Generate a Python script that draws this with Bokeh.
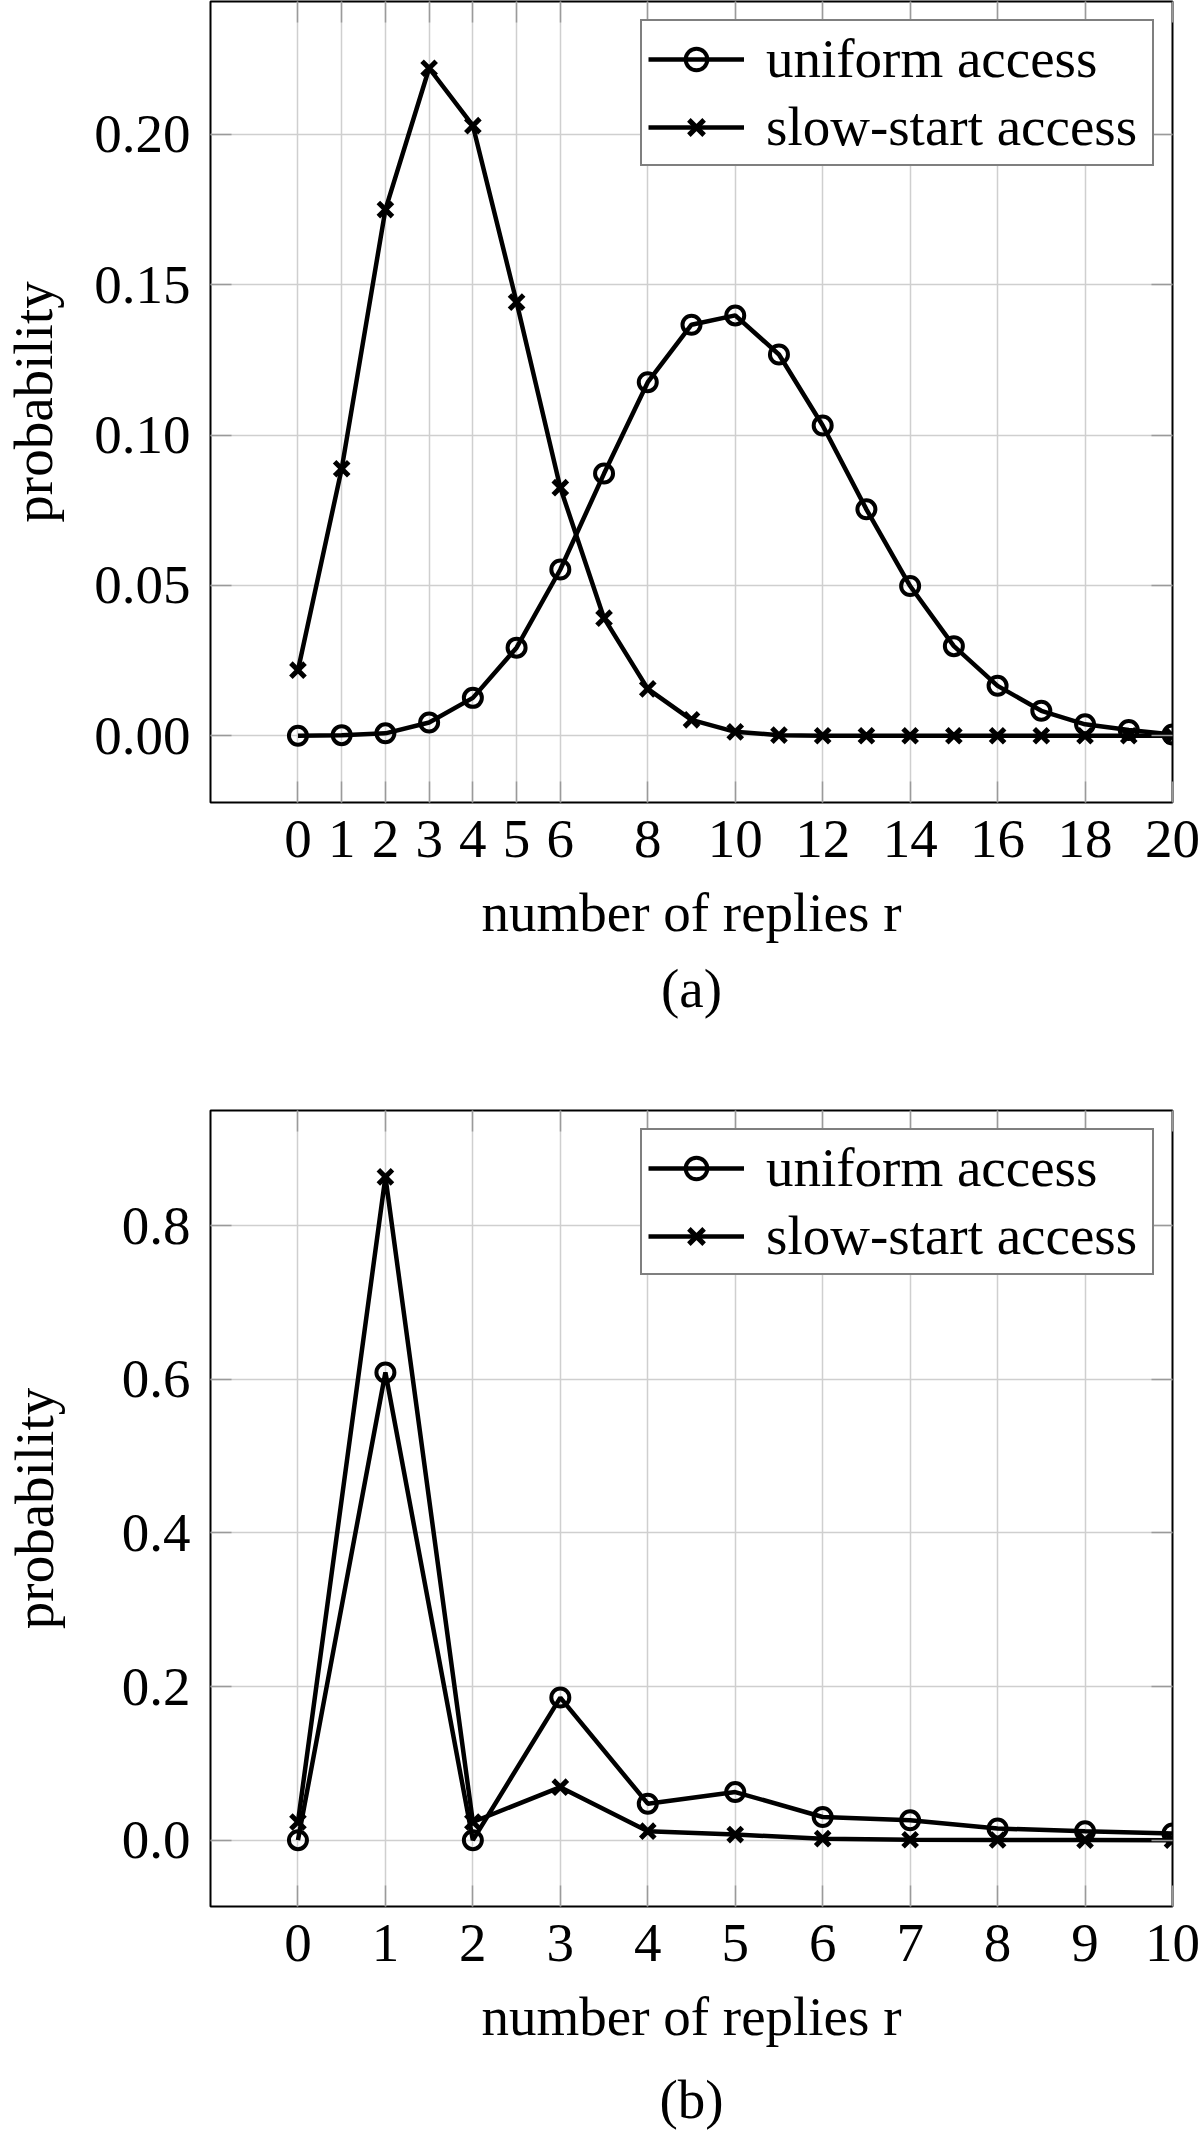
from bokeh.plotting import figure
from bokeh.models import (FixedTicker, NumeralTickFormatter, Legend, LegendItem,
                          LinearAxis, Range1d, Title, CustomJSTickFormatter)
from bokeh.layouts import column
from bokeh.embed import file_html
from bokeh.resources import INLINE

FONT = "Liberation Serif"

# ---------------- data: panel (a) ----------------
r_a = list(range(21))
uniform_a = [0.0000, 0.0002, 0.0008, 0.0044, 0.0126, 0.0293, 0.0553, 0.0872, 0.1176,
             0.1367, 0.1398, 0.1268, 0.1032, 0.0753, 0.0498, 0.0298, 0.0166, 0.0083,
             0.0038, 0.0019, 0.0004]
slow_a = [0.0218, 0.0888, 0.1750, 0.2220, 0.2029, 0.1442, 0.0825, 0.0391, 0.0156,
          0.0053, 0.0013, 0.0002, 0.0000, 0.0000, 0.0000, 0.0000, 0.0000, 0.0000,
          0.0000, 0.0000, 0.0000]
xticks_a = [0, 1, 2, 3, 4, 5, 6, 8, 10, 12, 14, 16, 18, 20]
yticks_a = [0.00, 0.05, 0.10, 0.15, 0.20]

# ---------------- data: panel (b) ----------------
r_b = list(range(11))
uniform_b = [0.0000, 0.6090, 0.0000, 0.1857, 0.0475, 0.0626, 0.0302, 0.0259, 0.0151,
             0.0117, 0.0086]
slow_b = [0.0237, 0.8638, 0.0237, 0.0690, 0.0117, 0.0073, 0.0020, 0.0005, 0.0002,
          0.0001, 0.0000]
xticks_b = list(range(11))
yticks_b = [0.0, 0.2, 0.4, 0.6, 0.8]

series_names = ["uniform access", "slow-start access"]
x_title = "number of replies r"
y_title = "probability"

GRID = "#cfcfcf"
TICK = "#9a9a9a"


def make_panel(xs, uni, slow, xticks, yticks, yfmt, caption, height,
               top, bottom, ylab_standoff, cap_standoff):
    xmax = max(xs)
    ymax = max(max(uni), max(slow))
    p = figure(width=1200, height=height, output_backend="svg", toolbar_location=None,
               x_range=Range1d(-0.1 * xmax, xmax),
               y_range=Range1d(-0.1 * ymax, 1.1 * ymax),
               min_border_left=209, min_border_right=28,
               min_border_top=top, min_border_bottom=bottom,
               x_axis_label=x_title, y_axis_label=y_title)
    p.background_fill_color = "white"
    p.border_fill_color = "white"
    p.outline_line_color = "black"
    p.outline_line_width = 2

    p.xaxis.ticker = FixedTicker(ticks=xticks)
    p.yaxis.ticker = FixedTicker(ticks=yticks)
    p.yaxis.formatter = NumeralTickFormatter(format=yfmt)
    p.xgrid.ticker = FixedTicker(ticks=xticks)
    p.ygrid.ticker = FixedTicker(ticks=yticks)
    for g in (p.xgrid, p.ygrid):
        g.grid_line_color = GRID
        g.grid_line_width = 1.5

    for ax in (p.xaxis[0], p.yaxis[0]):
        ax.major_tick_in = 21
        ax.major_tick_out = 0
        ax.major_tick_line_color = TICK
        ax.major_tick_line_width = 1.5
        ax.minor_tick_line_color = None
        ax.axis_line_color = None
        ax.major_label_text_font = FONT
        ax.major_label_text_font_size = "55px"
        ax.major_label_text_color = "black"
        ax.axis_label_text_font = FONT
        ax.axis_label_text_font_size = "55px"
        ax.axis_label_text_font_style = "normal"
        ax.axis_label_text_color = "black"
    p.xaxis.major_label_standoff = 18
    p.xaxis.axis_label_standoff = 22
    p.yaxis.major_label_standoff = 20
    p.yaxis.axis_label_standoff = ylab_standoff

    # mirrored ticks on top and right
    blank = CustomJSTickFormatter(code="return ''")
    for loc, tks in (("above", xticks), ("right", yticks)):
        ax = LinearAxis(ticker=FixedTicker(ticks=tks), formatter=blank,
                        major_tick_in=21, major_tick_out=0,
                        major_tick_line_color=TICK, major_tick_line_width=1.5,
                        minor_tick_line_color=None, axis_line_color=None,
                        major_label_standoff=0, major_label_text_font_size="0px")
        p.add_layout(ax, loc)

    l1 = p.line(xs, uni, line_color="black", line_width=4.5)
    s1 = p.scatter(xs, uni, marker="circle", size=18, fill_color=None,
                   line_color="black", line_width=4)
    l2 = p.line(xs, slow, line_color="black", line_width=4.5)
    s2 = p.scatter(xs, slow, marker="x", size=20, line_color="black", line_width=5)

    legend = Legend(items=[LegendItem(label=series_names[0], renderers=[l1, s1]),
                           LegendItem(label=series_names[1], renderers=[l2, s2])],
                    location="top_right")
    legend.label_text_font = FONT
    legend.label_text_font_size = "55px"
    legend.label_text_color = "black"
    legend.glyph_width = 96
    legend.glyph_height = 54
    legend.label_height = 54
    legend.label_width = 380
    legend.label_standoff = 22
    legend.spacing = 5
    legend.padding = 6
    legend.margin = 18
    legend.border_line_color = "black"
    legend.border_line_width = 2
    legend.background_fill_color = "white"
    legend.background_fill_alpha = 1.0
    p.add_layout(legend)

    cap = Title(text=caption, align="center", text_font=FONT, text_font_size="55px",
                text_font_style="normal", text_color="black", standoff=cap_standoff)
    p.add_layout(cap, "below")
    return p


pa = make_panel(r_a, uniform_a, slow_a, xticks_a, yticks_a, "0.00", "(a)",
                height=1052, top=1, bottom=250, ylab_standoff=27, cap_standoff=21)
pb = make_panel(r_b, uniform_b, slow_b, xticks_b, yticks_b, "0.0", "(b)",
                height=1094, top=58, bottom=236, ylab_standoff=54, cap_standoff=34)

layout = column(pa, pb, spacing=0)
open("out.html", "w").write(file_html(layout, INLINE))
